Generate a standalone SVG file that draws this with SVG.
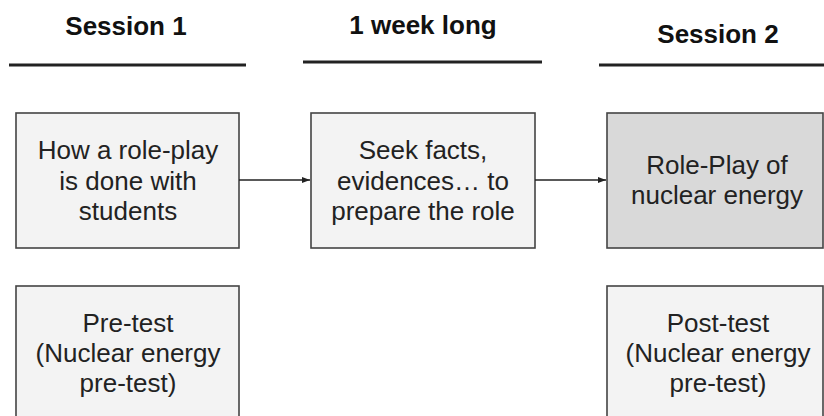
<svg xmlns="http://www.w3.org/2000/svg" width="824" height="416" viewBox="0 0 824 416">
<style>
.title{font-family:"Liberation Sans",Arial,sans-serif;font-weight:bold;font-size:26px;fill:#111;text-anchor:middle}
.rule{stroke:#222;stroke-width:3;fill:none}
.box{fill:#f3f3f3;stroke:#444;stroke-width:1.6}
.dark{fill:#d9d9d9}
.lbl{font-family:"Liberation Sans",Arial,sans-serif;font-size:26px;fill:#222;text-anchor:middle}
.conn{stroke:#222;stroke-width:1.3;fill:none}
</style>
<defs>
<marker id="arr" markerWidth="8" markerHeight="6" refX="8" refY="3" orient="auto" markerUnits="userSpaceOnUse">
<path d="M0,0 L8,3 L0,6 Z" fill="#222"/>
</marker>
</defs>
<rect width="824" height="416" fill="#fff"/>
<g id="headers">
<text class="title" x="126" y="35">Session 1</text>
<line class="rule" x1="9" y1="65" x2="246" y2="65"/>
<text class="title" x="423" y="34">1 week long</text>
<line class="rule" x1="303" y1="62" x2="542" y2="62"/>
<text class="title" x="718" y="43">Session 2</text>
<line class="rule" x1="599" y1="65" x2="824" y2="65"/>
</g>
<g id="node-howto">
<rect class="box" x="16" y="113" width="223" height="135"/>
<text class="lbl" x="128" y="159">How a role-play</text>
<text class="lbl" x="128" y="190">is done with</text>
<text class="lbl" x="128" y="220">students</text>
</g>
<g id="node-seek">
<rect class="box" x="311" y="113" width="224" height="135"/>
<text class="lbl" x="423" y="159">Seek facts,</text>
<text class="lbl" x="423" y="190">evidences… to</text>
<text class="lbl" x="423" y="220">prepare the role</text>
</g>
<g id="node-roleplay">
<rect class="box dark" x="607" y="113" width="216" height="135"/>
<text class="lbl" x="717" y="174">Role-Play of</text>
<text class="lbl" x="717" y="204">nuclear energy</text>
</g>
<g id="node-pretest">
<rect class="box" x="16" y="286" width="223" height="140"/>
<text class="lbl" x="128" y="332">Pre-test</text>
<text class="lbl" x="128" y="362">(Nuclear energy</text>
<text class="lbl" x="128" y="392">pre-test)</text>
</g>
<g id="node-posttest">
<rect class="box" x="607" y="286" width="216" height="140"/>
<text class="lbl" x="718" y="332">Post-test</text>
<text class="lbl" x="718" y="362">(Nuclear energy</text>
<text class="lbl" x="718" y="392">pre-test)</text>
</g>
<g id="connectors">
<line class="conn" x1="239" y1="180" x2="310" y2="180" marker-end="url(#arr)"/>
<line class="conn" x1="535" y1="180" x2="606" y2="180" marker-end="url(#arr)"/>
</g>
</svg>
